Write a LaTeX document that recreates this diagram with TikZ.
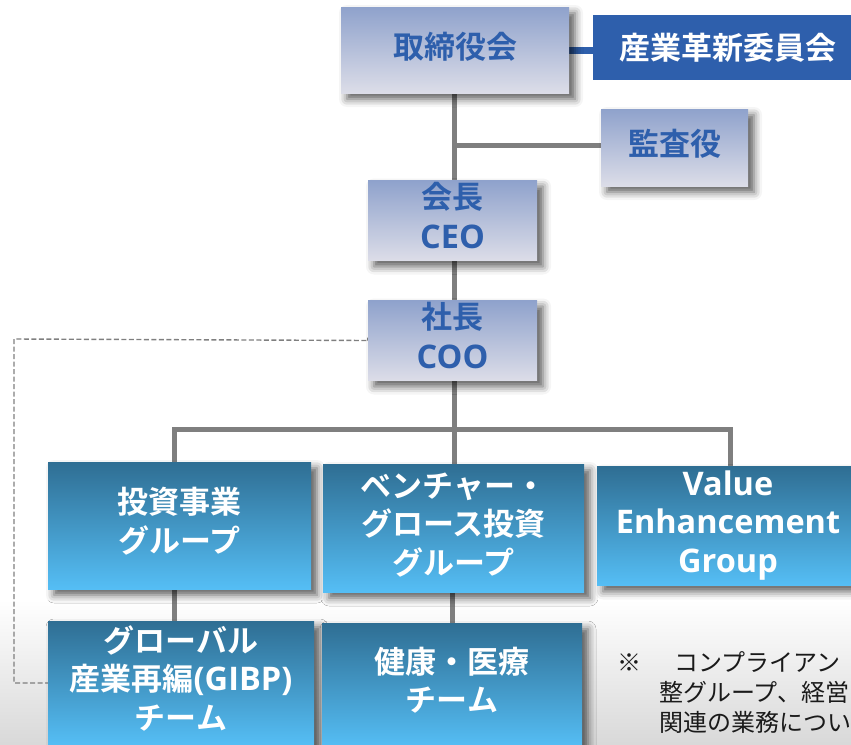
\documentclass[tikz,border=0pt]{standalone}
\usepackage{fontspec}
\setmainfont{Noto Sans CJK JP}[BoldFont={* Bold}]
\newfontfamily\latfont{Open Sans}
\newcommand\lat[1]{{\latfont\fontsize{32.5}{38}\selectfont #1}}
\newcommand\lines[1]{\begin{tabular}{@{}c@{}}#1\end{tabular}}
\usetikzlibrary{shadows.blur}
\pgfdeclarelayer{bg}
\pgfsetlayers{bg,main}
\definecolor{topA}{HTML}{8FA2CC}
\definecolor{topB}{HTML}{DCDDE8}
\definecolor{navy}{HTML}{2E5FAC}
\definecolor{lowA}{HTML}{2F6E93}
\definecolor{lowB}{HTML}{55BEF5}
\definecolor{lnk}{HTML}{7F7F7F}
\definecolor{notetxt}{HTML}{1A1A1A}
\begin{document}
\begin{tikzpicture}[x=1pt,y=-1pt,
  boxshadow/.style={blur shadow={shadow xshift=6pt, shadow yshift=-6pt, shadow blur radius=8pt, shadow opacity=65}},
  exec/.style={rectangle, top color=topA, bottom color=topB, text=navy, font=\fontsize{31}{40}\selectfont\bfseries, inner sep=0pt, boxshadow},
  unit/.style={rectangle, top color=lowA, bottom color=lowB, text=white, font=\fontsize{31}{38.5}\selectfont\bfseries, inner sep=0pt, boxshadow},
  committee/.style={rectangle, fill=navy, text=white, font=\fontsize{31}{38}\selectfont\bfseries, inner sep=0pt},
  link/.style={draw=lnk, line width=5pt},
  bluelink/.style={draw=navy, line width=7pt},
  dashlink/.style={draw=lnk, line width=1.4pt, dash pattern=on 5pt off 2.5pt},
  notestyle/.style={anchor=west, inner sep=0pt, text=notetxt, font=\fontsize{24}{30}\selectfont}
]
\useasboundingbox (0,0) rectangle (851,744);

\node[exec, minimum width=228pt, minimum height=86pt] (board) at (455,50) {\lines{取締役会}};
\node[committee, minimum width=269pt, minimum height=65pt] (comm) at (727.5,47.5) {産業革新委員会};
\node[exec, minimum width=147pt, minimum height=77pt] (audit) at (674.5,147.5) {\lines{監査役}};
\node[exec, minimum width=169pt, minimum height=79pt] (ceo) at (452.5,220.5) {\lines{会長\\\lat{CEO}}};
\node[exec, minimum width=169pt, minimum height=79pt] (coo) at (452.5,340.5) {\lines{社長\\\lat{COO}}};

\node[unit, minimum width=263pt, minimum height=127pt] (inv) at (179.5,525.5) {\lines{投資事業\\グループ}};
\node[unit, minimum width=261pt, minimum height=128pt] (vent) at (453.5,528) {\lines{ベンチャー・\\グロース投資\\グループ}};
\node[unit, minimum width=262pt, minimum height=119pt] (value) at (728,526) {\lines{\lat{Value}\\\lat{Enhancement}\\\lat{Group}}};
\node[unit, minimum width=266pt, minimum height=124pt] (glob) at (181,683) {\lines{グローバル\\産業再編\lat{(GIBP)}\\チーム}};
\node[unit, minimum width=260pt, minimum height=124pt] (health) at (452,685) {\lines{健康・医療\\チーム}};

\node[notestyle] (note1) at (617,662) {※\hspace{33pt}コンプライアン};
\node[notestyle] (note2) at (659,692) {整グループ、経営};
\node[notestyle] (note3) at (659,722) {関連の業務につい};

\coordinate (bar) at (454,429);
\coordinate (barL) at (174,429);
\coordinate (barR) at (730,429);
\coordinate (auditj) at (454,145);
\coordinate (dashc) at (14,339);

\begin{pgfonlayer}{bg}
\fill[top color=white, bottom color=black!15] (0,600) rectangle (851,744);
\draw[bluelink] (board.east) -- (comm.west |- board.east);
\draw[link] (board.south -| auditj) -- (ceo.north -| auditj);
\draw[link] (auditj) -- (audit.west |- auditj);
\draw[link] (ceo.south -| auditj) -- (coo.north -| auditj);
\draw[link] (coo.south -| bar) -- (vent.north -| bar);
\draw[link, line cap=rect] (inv.north -| barL) -- (barL) -- (barR) -- (value.north -| barR);
\draw[link] (inv.south -| 174,0) -- (glob.north -| 174,0);
\draw[link] (vent.south -| 452,0) -- (health.north -| 452,0);
\draw[dashlink] (coo.west) -- ++(0,-3) -- ++(0,3) -- (dashc) |- (glob.west);
\end{pgfonlayer}
\end{tikzpicture}
\end{document}
